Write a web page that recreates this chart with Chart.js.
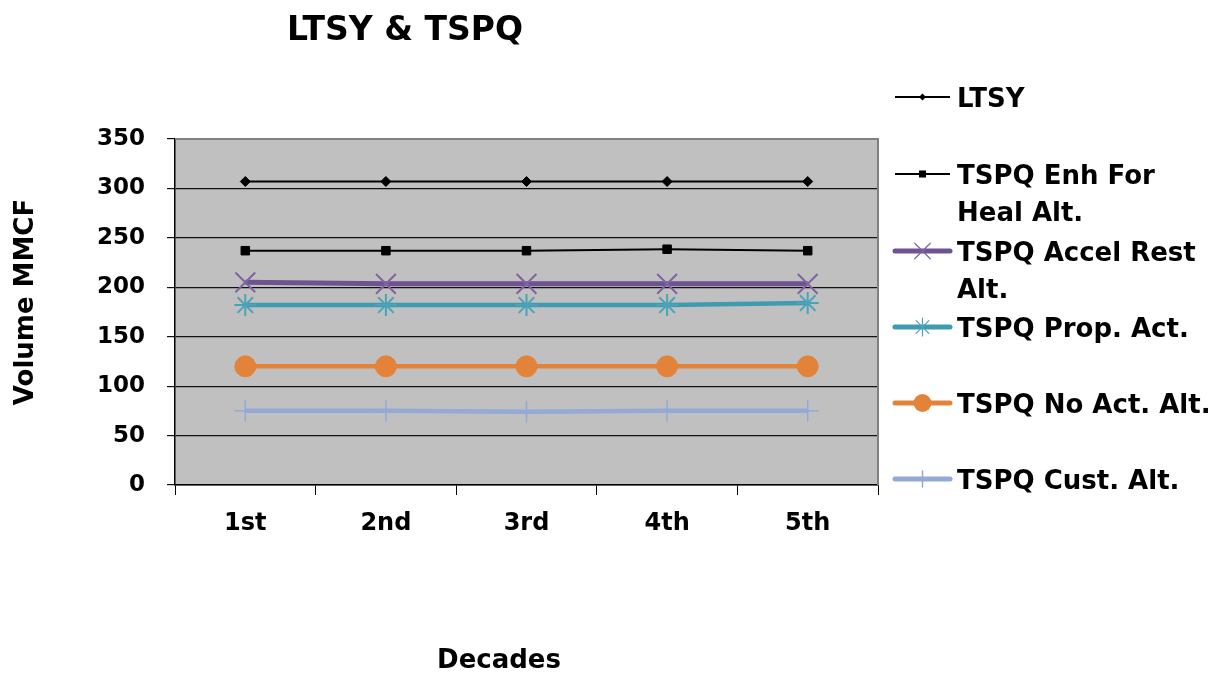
<!DOCTYPE html>
<html>
<head>
<meta charset="utf-8">
<script src="https://cdn.jsdelivr.net/npm/chart.js@4.4.0/dist/chart.umd.min.js"></script>
<style>
html,body{margin:0;padding:0;background:#fff;}
#wrap{width:1226px;height:673px;}
</style>
</head>
<body>
<div id="wrap"><canvas id="c" width="1226" height="673"></canvas></div>
<script>
const chartTitle = 'LTSY & TSPQ';
const xTitle = 'Decades';
const yTitle = 'Volume MMCF';
const categories = ['1st', '2nd', '3rd', '4th', '5th'];
const seriesNames = ['LTSY', 'TSPQ Enh For Heal Alt.', 'TSPQ Accel Rest Alt.', 'TSPQ Prop. Act.', 'TSPQ No Act. Alt.', 'TSPQ Cust. Alt.'];
const ltsy   = [307, 307, 307, 307, 307];
const enh    = [237, 237, 237, 238.5, 237];
const accel  = [205, 203.5, 203.5, 203.5, 203.5];
const prop   = [182, 182, 182, 182, 184];
const noAct  = [120, 120, 120, 120, 120];
const cust   = [75, 75, 74, 75, 75];
const yMin = 0, yMax = 350, yStep = 50;

const FONT = '"DejaVu Sans", sans-serif';

const styles = [
  {color:'#000000', pointColor:'#000000', width:2, style:'rectRot', r:5, pbw:1, legR:3.5, legW:2},
  {color:'#000000', pointColor:'#000000', width:2, style:'rect', r:6, pbw:1, legR:5, legW:2},
  {color:'#6F5391', pointColor:'#7E64A0', width:5, style:'crossRot', r:14, pbw:2, legR:11, legW:5},
  {color:'#3F9BB1', pointColor:'#4BA3B8', width:4.5, style:'star', r:11, pbw:2, legR:9, legW:5},
  {color:'#E3833A', pointColor:'#E3833A', width:4.5, style:'circle', r:10.5, pbw:1, legR:9, legW:5},
  {color:'#93A9D6', pointColor:'#93A9D6', width:4.5, style:'cross', r:11, pbw:1.5, legR:8, legW:5}
];
const values = [ltsy, enh, accel, prop, noAct, cust];

const datasets = values.map((v, i) => ({
  label: seriesNames[i],
  data: v,
  borderColor: styles[i].color,
  backgroundColor: styles[i].pointColor,
  borderWidth: styles[i].width,
  pointStyle: styles[i].style,
  pointRadius: styles[i].r,
  pointHoverRadius: styles[i].r,
  pointBorderColor: styles[i].pointColor,
  pointBackgroundColor: styles[i].pointColor,
  pointBorderWidth: styles[i].pbw,
  tension: 0,
  fill: false,
  order: i
}));

function drawMarker(ctx, style, x, y, r, color, lw) {
  ctx.save();
  ctx.strokeStyle = color; ctx.fillStyle = color; ctx.lineWidth = lw;
  ctx.beginPath();
  const d = r * Math.SQRT1_2;
  if (style === 'circle') { ctx.arc(x, y, r, 0, Math.PI*2); ctx.fill(); }
  else if (style === 'rect') { ctx.rect(x-d, y-d, 2*d, 2*d); ctx.fill(); }
  else if (style === 'rectRot') { ctx.moveTo(x, y-r); ctx.lineTo(x+r, y); ctx.lineTo(x, y+r); ctx.lineTo(x-r, y); ctx.closePath(); ctx.fill(); }
  else if (style === 'cross') { ctx.moveTo(x, y-r); ctx.lineTo(x, y+r); ctx.moveTo(x-r, y); ctx.lineTo(x+r, y); ctx.stroke(); }
  else if (style === 'crossRot') { ctx.moveTo(x-d, y-d); ctx.lineTo(x+d, y+d); ctx.moveTo(x+d, y-d); ctx.lineTo(x-d, y+d); ctx.stroke(); }
  else if (style === 'star') { ctx.moveTo(x, y-r); ctx.lineTo(x, y+r); ctx.moveTo(x-d, y-d); ctx.lineTo(x+d, y+d); ctx.moveTo(x+d, y-d); ctx.lineTo(x-d, y+d); ctx.stroke(); }
  ctx.restore();
}

const legendLineY = [97, 174, 251, 327, 403, 479];

const decor = {
  id: 'decor',
  beforeDraw(chart) {
    const {ctx, chartArea: a} = chart;
    ctx.save();
    ctx.fillStyle = '#ffffff';
    ctx.fillRect(0, 0, chart.width, chart.height);
    ctx.fillStyle = '#C0C0C0';
    ctx.fillRect(a.left, a.top, a.right - a.left, a.bottom - a.top);
    ctx.restore();
  },
  afterDraw(chart) {
    const {ctx, chartArea: a} = chart;
    ctx.save();
    // frame
    ctx.strokeStyle = '#808080';
    ctx.lineWidth = 2;
    ctx.beginPath();
    ctx.moveTo(a.left, a.top); ctx.lineTo(a.right, a.top); ctx.lineTo(a.right, a.bottom);
    ctx.stroke();
    // title
    ctx.fillStyle = '#000';
    ctx.textAlign = 'center';
    ctx.textBaseline = 'alphabetic';
    ctx.font = 'bold 33px ' + FONT;
    ctx.fillText(chartTitle, 405, 40);
    // x title
    ctx.font = 'bold 26px ' + FONT;
    ctx.fillText(xTitle, 499, 668);
    // y title
    ctx.save();
    ctx.translate(33, 302);
    ctx.rotate(-Math.PI/2);
    ctx.fillText(yTitle, 0, 0);
    ctx.restore();
    // legend
    ctx.font = 'bold 26px ' + FONT;
    ctx.textAlign = 'left';
    const maxW = 262;
    chart.data.datasets.forEach((ds, i) => {
      const st = styles[i];
      const y = legendLineY[i];
      ctx.strokeStyle = st.color;
      ctx.lineWidth = st.legW;
      ctx.lineCap = st.legW > 3 ? 'round' : 'butt';
      ctx.beginPath(); ctx.moveTo(895, y); ctx.lineTo(950, y); ctx.stroke();
      drawMarker(ctx, st.style, 922.5, y, st.legR, st.pointColor, st.style === 'crossRot' || st.style === 'star' ? 1.2 : st.pbw);
      // wrap
      const words = ds.label.split(' ');
      const lines = [];
      let cur = '';
      words.forEach(w => {
        const t = cur ? cur + ' ' + w : w;
        if (ctx.measureText(t).width > maxW && cur) { lines.push(cur); cur = w; } else cur = t;
      });
      lines.push(cur);
      ctx.fillStyle = '#000';
      lines.forEach((ln, k) => ctx.fillText(ln, 957, y + 9.5 + k*37));
    });
    ctx.restore();
  }
};

new Chart(document.getElementById('c'), {
  type: 'line',
  data: { labels: categories, datasets },
  options: {
    responsive: false,
    animation: false,
    events: [],
    layout: { padding: { top: 139, right: 348, left: 0, bottom: 0 } },
    plugins: { legend: { display: false }, title: { display: false }, tooltip: { enabled: false } },
    scales: {
      x: {
        type: 'category',
        offset: true,
        grid: { offset: true, drawOnChartArea: false, drawTicks: true, tickLength: 10, color: '#000', lineWidth: 1 },
        border: { display: true, color: '#000', width: 1.5 },
        ticks: { color: '#000', font: { family: FONT, size: 24, weight: 'bold' }, padding: 14, maxRotation: 0 },
        afterFit(s) { s.height = 188; }
      },
      y: {
        min: yMin, max: yMax,
        ticks: { stepSize: yStep, color: '#000', font: { family: FONT, size: 23, weight: 'bold' }, padding: 22 },
        grid: { color: '#111', lineWidth: 1.2, tickLength: 8, drawTicks: true },
        border: { display: true, color: '#000', width: 1.5 },
        afterFit(s) { s.width = 175; }
      }
    }
  },
  plugins: [decor]
});
</script>
</body>
</html>
